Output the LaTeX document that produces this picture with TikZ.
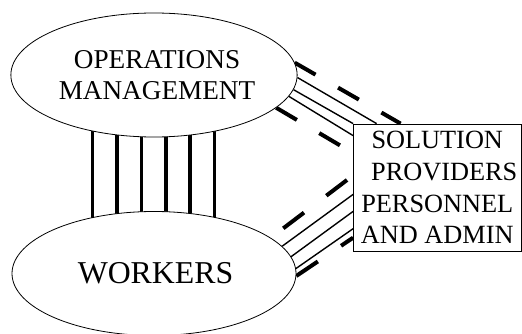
\documentclass[tikz,border=0pt]{standalone}
\usepackage{fontspec}
\setmainfont{Liberation Serif}
\usetikzlibrary{shapes.geometric,backgrounds}

\tikzset{
  bubble/.style={ellipse, draw, line width=0.8pt, fill=white, minimum width=284pt, minimum height=124pt, inner sep=0pt, align=center},
  panel/.style={rectangle, draw, line width=0.8pt, fill=white, minimum width=167.5pt, minimum height=127pt, inner sep=2pt, align=center},
  bar/.style={line width=3.6pt},
  link/.style={line width=1.4pt},
  dashlink/.style={line width=4pt, dash pattern=on 24pt off 26pt}
}

\begin{document}
\begin{tikzpicture}[x=1pt,y=-1pt]
    \useasboundingbox (0,0) rectangle (522,334);

    % Ellipses
    \node[bubble, font=\fontsize{27.2}{31.7}\selectfont] (ops) at (154,75) {\hspace*{6pt}OPERATIONS\\\hspace*{6pt}MANAGEMENT};
    \node[bubble, font=\fontsize{31.8}{37}\selectfont] (wrk) at (154,273.5) {\hspace*{3pt}WORKERS};

    % Box
    \node[panel, font=\fontsize{26.3}{31.7}\selectfont] (sol) at (437.25,187.5) {SOLUTION\\\hspace*{14pt}PROVIDERS\\PERSONNEL\\AND ADMIN};

    \begin{pgfonlayer}{background}
    % Vertical bars
    \foreach \bx in {92.3,116.7,141.3,165.7,190,214.5}
        \draw[bar] (\bx,0 |- ops.center) -- (\bx,0 |- wrk.center);

    % Lines to the box from top
    \draw[dashlink] (ops.5.34) -- ([xshift=47.5pt]sol.north west);
    \draw[link] (ops.-1.61) -- ([xshift=23.5pt]sol.north west);
    \draw[link] (ops.-6.12) -- (sol.north west);
    \draw[link] (ops.-9.98) -- ([yshift=-12pt]sol.north west);
    \draw[dashlink] (ops.-15.95) -- ([yshift=-29.5pt]sol.north west);

    % Lines to the box from bottom
    \draw[dashlink, dash pattern=on 26pt off 28pt, dash phase=38.3pt] (wrk.17.74) -- ([yshift=76pt]sol.south west);
    \draw[link] (wrk.12.28) -- ([yshift=57pt]sol.south west);
    \draw[link] (wrk.7.75) -- ([yshift=40pt]sol.south west);
    \draw[link] (wrk.2.75) -- ([yshift=22.7pt]sol.south west);
    \draw[dashlink, dash pattern=on 26pt off 28pt] (wrk.-1) -- ([yshift=13.7pt]sol.south west);
    \end{pgfonlayer}
\end{tikzpicture}
\end{document}
